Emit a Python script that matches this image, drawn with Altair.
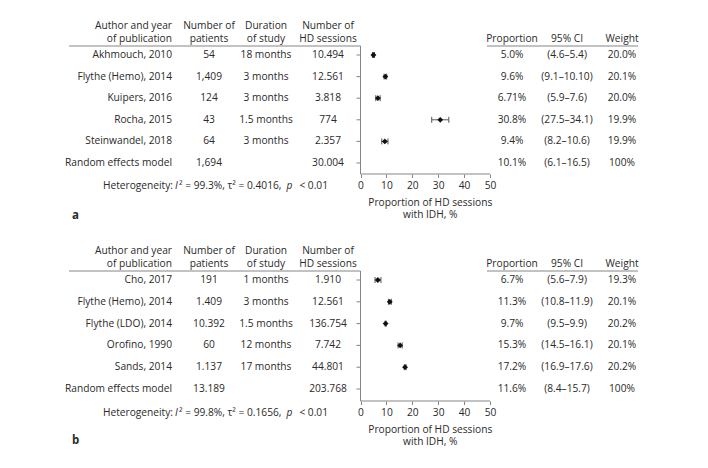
import altair as alt
import pandas as pd

# ---------------- data: panel a ----------------
authors_a = ["Akhmouch, 2010", "Flythe (Hemo), 2014", "Kuipers, 2016", "Rocha, 2015",
             "Steinwandel, 2018", "Random effects model"]
patients_a = ["54", "1,409", "124", "43", "64", "1,694"]
duration_a = ["18 months", "3 months", "3 months", "1.5 months", "3 months", ""]
sessions_a = ["10.494", "12.561", "3.818", "774", "2.357", "30.004"]
prop_a = [5.0, 9.6, 6.71, 30.8, 9.4, 10.1]
lo_a = [4.6, 9.1, 5.9, 27.5, 8.2, 6.1]
hi_a = [5.4, 10.1, 7.6, 34.1, 10.6, 16.5]
prop_lbl_a = ["5.0%", "9.6%", "6.71%", "30.8%", "9.4%", "10.1%"]
ci_lbl_a = ["(4.6–5.4)", "(9.1–10.10)", "(5.9–7.6)", "(27.5–34.1)", "(8.2–10.6)", "(6.1–16.5)"]
weight_a = ["20.0%", "20.1%", "20.0%", "19.9%", "19.9%", "100%"]
het_a = ["99.3%", "0.4016", "0.01"]

# ---------------- data: panel b ----------------
authors_b = ["Cho, 2017", "Flythe (Hemo), 2014", "Flythe (LDO), 2014", "Orofino, 1990",
             "Sands, 2014", "Random effects model"]
patients_b = ["191", "1.409", "10.392", "60", "1.137", "13.189"]
duration_b = ["1 months", "3 months", "1.5 months", "12 months", "17 months", ""]
sessions_b = ["1.910", "12.561", "136.754", "7.742", "44.801", "203.768"]
prop_b = [6.7, 11.3, 9.7, 15.3, 17.2, 11.6]
lo_b = [5.6, 10.8, 9.5, 14.5, 16.9, 8.4]
hi_b = [7.9, 11.9, 9.9, 16.1, 17.6, 15.7]
prop_lbl_b = ["6.7%", "11.3%", "9.7%", "15.3%", "17.2%", "11.6%"]
ci_lbl_b = ["(5.6–7.9)", "(10.8–11.9)", "(9.5–9.9)", "(14.5–16.1)", "(16.9–17.6)", "(8.4–15.7)"]
weight_b = ["19.3%", "20.1%", "20.2%", "20.1%", "20.2%", "100%"]
het_b = ["99.8%", "0.1656", "0.01"]

header_line1 = ["Author and year", "Number of", "Duration", "Number of"]
header_line2 = ["of publication", "patients", "of study", "HD sessions"]
header_right = ["Proportion", "95% CI", "Weight"]
x_ticks = [0, 10, 20, 30, 40, 50]
axis_title = ["Proportion of HD sessions", "with IDH, %"]

# ---------------- style ----------------
FONT = "Open Sans"
FS = 10.2
TXT = "#2a2a2a"
LINE = "#858585"
W = 692

X_AUTH, X_PAT, X_DUR, X_SES = 164, 201, 258, 320
X_PROP, X_CI, X_W = 504, 559, 614
AX0, AX1 = 352.5, 482          # pixel span of 0..50 on the forest axis
K = (AX1 - AX0) / (x_ticks[-1] - x_ticks[0])
XDOM = [x_ticks[0] - AX0 / K, x_ticks[0] + (W - AX0) / K]

one = pd.DataFrame({"lo": [x_ticks[0]], "hi": [x_ticks[-1]]})


def panel(authors, patients, duration, sessions, prop, lo, hi, prop_lbl, ci_lbl,
          weight, het, letter, height, row0, step):
    n = len(authors)
    df = pd.DataFrame({
        "row": list(range(n)), "author": authors, "patients": patients,
        "duration": duration, "sessions": sessions, "prop": prop, "lo": lo, "hi": hi,
        "prop_lbl": prop_lbl, "ci_lbl": ci_lbl, "weight": weight,
        "study": [True] * (n - 1) + [False],
    })
    top = -row0 / step
    bottom = (height - row0) / step
    ys = alt.Scale(domain=[top, bottom], reverse=True, nice=False, zero=False)
    xs = alt.Scale(domain=XDOM, nice=False, zero=False)
    xax = alt.Axis(values=x_ticks, title=None, format="d", domain=False)
    Y = alt.Y("row:Q", scale=ys, axis=None)
    base = alt.Chart(df)
    studies = base.transform_filter("datum.study")
    lab = alt.Chart(one)

    pts = studies.mark_point(shape="diamond", filled=True, size=34, color="#111111",
                             opacity=1).encode(
        x=alt.X("prop:Q", scale=xs, axis=xax), y=Y)
    bars = studies.mark_rule(color="#555555", strokeWidth=1).encode(
        x=alt.X("lo:Q", scale=xs, axis=xax), x2="hi:Q", y=Y)
    cap_lo = studies.mark_rule(color="#555555", strokeWidth=1, yOffset=-3,
                               y2Offset=3).encode(
        x=alt.X("lo:Q", scale=xs, axis=xax), y=Y, y2="row:Q")
    cap_hi = studies.mark_rule(color="#555555", strokeWidth=1, yOffset=-3,
                               y2Offset=3).encode(
        x=alt.X("hi:Q", scale=xs, axis=xax), y=Y, y2="row:Q")

    xline = lab.mark_rule(color=LINE, strokeWidth=1).encode(
        x=alt.X("lo:Q", scale=xs, axis=xax), x2="hi:Q", y=alt.value(height))
    yline = lab.mark_rule(color=LINE, strokeWidth=1).encode(
        x=alt.X("lo:Q", scale=xs, axis=xax), y=alt.value(38), y2=alt.value(height))
    yticks = base.transform_calculate(z="0").mark_rule(
        color=LINE, strokeWidth=1, x2Offset=-4).encode(
        x=alt.X("z:Q", scale=xs, axis=xax), x2="z:Q", y=Y)

    def col(field, x, align="center"):
        return base.mark_text(align=align, baseline="middle", font=FONT, fontSize=FS,
                              color=TXT).encode(x=alt.value(x), y=Y, text=f"{field}:N")

    cols = [col("author", X_AUTH, "right"), col("patients", X_PAT), col("duration", X_DUR),
            col("sessions", X_SES), col("prop_lbl", X_PROP), col("ci_lbl", X_CI),
            col("weight", X_W)]

    def label(txt, x, y, align="center", **kw):
        return lab.mark_text(align=align, baseline="middle", font=FONT, fontSize=FS,
                             color=TXT, **kw).encode(
            x=alt.value(x), y=alt.value(y), text=alt.value(txt))

    hx = [X_AUTH, X_PAT, X_DUR, X_SES]
    hal = ["right", "center", "center", "center"]
    heads = []
    for t1, t2, x, a in zip(header_line1, header_line2, hx, hal):
        heads.append(label(t1, x, 18, a))
        heads.append(label(t2, x, 30.5, a))
    for t, x in zip(header_right, [X_PROP, X_CI, X_W]):
        heads.append(label(t, x, 30.5))

    hrule1 = lab.mark_rule(color=LINE, strokeWidth=1).encode(
        x=alt.value(61), x2=alt.value(AX0), y=alt.value(38))
    hrule2 = lab.mark_rule(color=LINE, strokeWidth=1).encode(
        x=alt.value(479), x2=alt.value(630), y=alt.value(38))

    tx = (AX0 + AX1) / 2 + 5
    titles = [label(axis_title[0], tx, height + 28.5), label(axis_title[1], tx, height + 41)]

    hy = height + 11.5
    hetero = [
        label("Heterogeneity:", 165, hy, "right"),
        label("I", 167, hy, "left", fontStyle="italic"),
        label(f"² = {het[0]}, τ² = {het[1]},", 171, hy, "left"),
        label("p", 278.5, hy, "left", fontStyle="italic"),
        label(f"< {het[2]}", 320, hy, "right"),
    ]
    let = lab.mark_text(align="left", baseline="middle", font=FONT, fontSize=11.5,
                        fontWeight="bold", color=TXT).encode(
        x=alt.value(64), y=alt.value(208), text=alt.value(letter))

    return alt.layer(bars, cap_lo, cap_hi, pts, xline, yline, yticks, *cols, *heads,
                     hrule1, hrule2, *titles, *hetero, let).properties(width=W, height=height)


pa = panel(authors_a, patients_a, duration_a, sessions_a, prop_a, lo_a, hi_a, prop_lbl_a,
           ci_lbl_a, weight_a, het_a, "a", 166, 47, 21.6)
pb = panel(authors_b, patients_b, duration_b, sessions_b, prop_b, lo_b, hi_b, prop_lbl_b,
           ci_lbl_b, weight_b, het_b, "b", 168, 47, 21.8)

chart = alt.vconcat(pa, pb, spacing=59, bounds="flush").properties(
    padding=0, background="white"
).configure_view(stroke=None).configure_axis(
    domainColor=LINE, tickColor=LINE, tickSize=3.5, labelFont=FONT, labelFontSize=FS,
    labelColor=TXT, labelPadding=2.5, grid=False
)

chart.save("out.html", embed_options={"renderer": "svg", "actions": False})
